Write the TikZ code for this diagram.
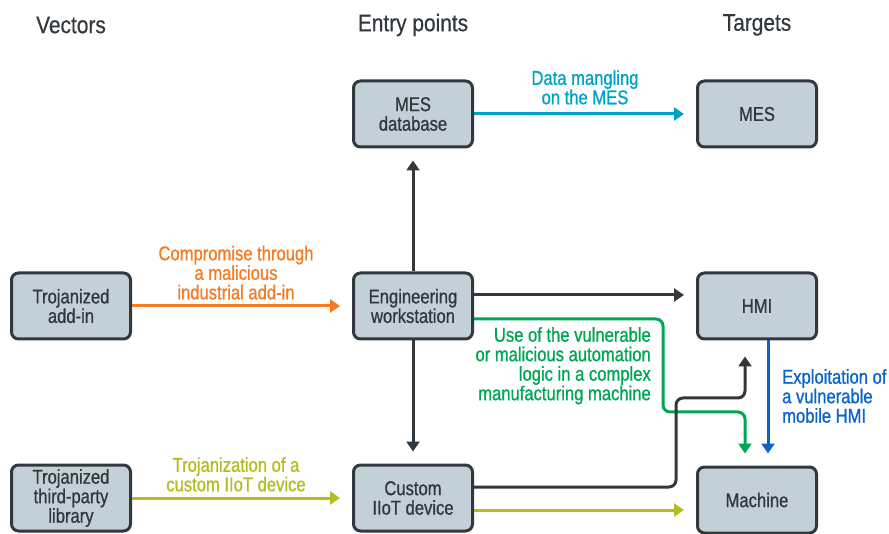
\documentclass[tikz,border=0pt]{standalone}
\usepackage{fontspec}
\setmainfont[FakeStretch=0.83,FakeBold=0.9]{Liberation Sans}
\newfontfamily\headfont[FakeStretch=0.87,FakeBold=0.5]{Liberation Sans}
\usetikzlibrary{arrows.meta,positioning}
\definecolor{boxfill}{HTML}{C3D0D8}
\definecolor{boxline}{HTML}{33383D}
\definecolor{orangeA}{HTML}{F47B20}
\definecolor{greenA}{HTML}{00A651}
\definecolor{cyanA}{HTML}{00A2C4}
\definecolor{blueA}{HTML}{0A64C8}
\definecolor{oliveA}{HTML}{B4BC1F}
\tikzset{
  box/.style={draw=boxline, fill=boxfill, line width=3pt, rounded corners=7pt,
    minimum width=119pt, minimum height=66pt, align=center, text=boxline,
    font=\fontsize{20}{19.5}\selectfont},
  head/.style={text=boxline, font=\headfont\fontsize{24}{26}\selectfont},
  lab/.style={align=center, inner sep=2pt, font=\fontsize{20}{19.5}\selectfont},
  link/.style={line width=3pt, -{Triangle[length=10pt,width=13pt]}, shorten >=12pt},
}
\begin{document}
\begin{tikzpicture}[x=1pt,y=-1pt]
\useasboundingbox (0,0) rectangle (889,534);
% column heads
\node[head] (hvec) at (71,25) {Vectors};
\node[head] (hent) at (413,25) {Entry points};
\node[head] (htar) at (757,25) {Targets};
% vectors
\node[box] (addin) at (71,306) {Trojanized\\add-in};
\node[box] (lib) at (71,498) {Trojanized\\third-party\\library};
% entry points
\node[box] (mesdb) at (413,114) {MES\\database};
\node[box] (ews) at (413,306) {Engineering\\workstation};
\node[box] (iiot) at (413,498) {Custom\\IIoT device};
% targets
\node[box] (mes) at (757,114) {MES};
\node[box] (hmi) at (757,306) {HMI};
\node[box] (machine) at (757,500) {Machine};
% vector -> entry
\draw[link, orangeA] (addin) -- (ews)
  node[lab, midway, above=3pt, xshift=-6pt] {Compromise through\\a malicious\\industrial add-in};
\draw[link, oliveA] (lib) -- (iiot)
  node[lab, midway, above=3pt, xshift=-6pt] {Trojanization of a\\custom IIoT device};
% entry -> entry
\draw[link, boxline] (ews) -- (mesdb);
\draw[link, boxline] (ews) -- (iiot);
% entry -> target
\draw[link, cyanA] (mesdb) -- (mes)
  node[lab, midway, above=6pt] {Data mangling\\on the MES};
\draw[link, boxline] ([yshift=11pt]ews.east) -- ([yshift=11pt]ews.east -| hmi.west);
\draw[link, greenA, rounded corners=7pt] ([yshift=-13pt]ews.east) -- ++(189,0) -- ++(0,93)
  -| ([xshift=-12pt]machine.north);
\node[lab, greenA, align=right, anchor=north east] (glab) at (653,325)
  {Use of the vulnerable\\or malicious automation\\logic in a complex\\manufacturing machine};
\draw[link, boxline, rounded corners=7pt, shorten >=16pt] ([yshift=11pt]iiot.east) -- ++(202,0) -- ++(0,-89)
  -| ([xshift=-12pt]hmi.south);
\draw[link, oliveA] ([yshift=-12pt]iiot.east) -- ([yshift=-12pt]iiot.east -| machine.west);
\draw[link, blueA] ([xshift=11pt]hmi.south) -- ([xshift=11pt]machine.north);
\node[lab, blueA, align=left, anchor=north west] (blab) at (780,367)
  {Exploitation of\\a vulnerable\\mobile HMI};
\end{tikzpicture}
\end{document}
